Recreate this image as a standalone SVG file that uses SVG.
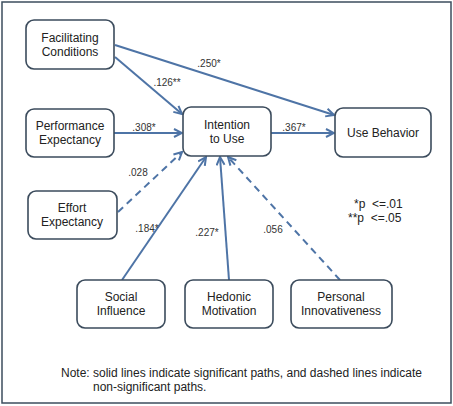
<svg xmlns="http://www.w3.org/2000/svg" width="453" height="406" viewBox="0 0 453 406">
<style>
.box{fill:#fff;stroke:#3b4b5c;stroke-width:1.6}
.t{font-family:"Liberation Sans",Arial,sans-serif;font-size:12px;fill:#222;text-anchor:middle}
.l{font-family:"Liberation Sans",Arial,sans-serif;font-size:10px;fill:#333;text-anchor:middle}
.n{font-family:"Liberation Sans",Arial,sans-serif;font-size:12px;fill:#222}
.a{stroke:#4e74a6;stroke-width:2;fill:none;marker-end:url(#ah)}
.d{stroke-dasharray:7,5}
</style>
<defs>
<marker id="ah" viewBox="0 0 10 10" refX="9" refY="5" markerWidth="5" markerHeight="5" orient="auto" markerUnits="strokeWidth">
<path d="M1,1 L9,5 L1,9" fill="none" stroke="#4e74a6" stroke-width="2"/>
</marker>
</defs>
<rect x="2" y="2" width="449" height="401" fill="#fff" stroke="#3c4d5e" stroke-width="1.5"/>
<g id="connectors">
<line class="a" x1="115" y1="45" x2="334" y2="115"/>
<line class="a" x1="115" y1="57" x2="182" y2="114"/>
<line class="a" x1="114" y1="133" x2="182" y2="133"/>
<line class="a" x1="271" y1="133" x2="334" y2="133"/>
<line class="a d" x1="118" y1="212" x2="182" y2="152"/>
<line class="a" x1="122" y1="280" x2="206" y2="157"/>
<line class="a" x1="229" y1="280" x2="220" y2="157"/>
<line class="a d" x1="340" y1="280" x2="228" y2="157"/>
</g>
<g id="labels">
<text class="l" x="209" y="67">.250*</text>
<text class="l" x="167" y="86">.126**</text>
<text class="l" x="144" y="131">.308*</text>
<text class="l" x="294" y="131">.367*</text>
<text class="l" x="138" y="176">.028</text>
<text class="l" x="147" y="232">.184*</text>
<text class="l" x="207" y="236">.227*</text>
<text class="l" x="273" y="233">.056</text>
</g>
<g id="fc"><rect class="box" x="26" y="20" width="88" height="49" rx="8"/><text class="t" x="70" y="42">Facilitating</text><text class="t" x="70" y="56">Conditions</text></g>
<g id="pe"><rect class="box" x="26" y="109" width="88" height="48" rx="8"/><text class="t" x="70" y="130">Performance</text><text class="t" x="70" y="144">Expectancy</text></g>
<g id="iu"><rect class="box" x="183" y="107" width="88" height="49" rx="8"/><text class="t" x="227" y="129">Intention</text><text class="t" x="227" y="143">to Use</text></g>
<g id="ub"><rect class="box" x="335" y="108" width="96" height="49" rx="8"/><text class="t" x="383" y="137">Use Behavior</text></g>
<g id="ee"><rect class="box" x="28" y="191" width="89" height="48" rx="8"/><text class="t" x="72" y="212">Effort</text><text class="t" x="72" y="226">Expectancy</text></g>
<g id="si"><rect class="box" x="77" y="280" width="88" height="48" rx="8"/><text class="t" x="121" y="301">Social</text><text class="t" x="121" y="315">Influence</text></g>
<g id="hm"><rect class="box" x="185" y="280" width="88" height="48" rx="8"/><text class="t" x="229" y="301">Hedonic</text><text class="t" x="229" y="315">Motivation</text></g>
<g id="pi"><rect class="box" x="291" y="280" width="101" height="48" rx="8"/><text class="t" x="341" y="301">Personal</text><text class="t" x="341" y="315">Innovativeness</text></g>
<g id="legend">
<text class="n" x="354" y="208" xml:space="preserve">*p  &lt;=.01</text>
<text class="n" x="348" y="222" xml:space="preserve">**p  &lt;=.05</text>
</g>
<g id="note">
<text class="n" x="61" y="377">Note: solid lines indicate significant paths, and dashed lines indicate</text>
<text class="n" x="93" y="391">non-significant paths.</text>
</g>
</svg>
